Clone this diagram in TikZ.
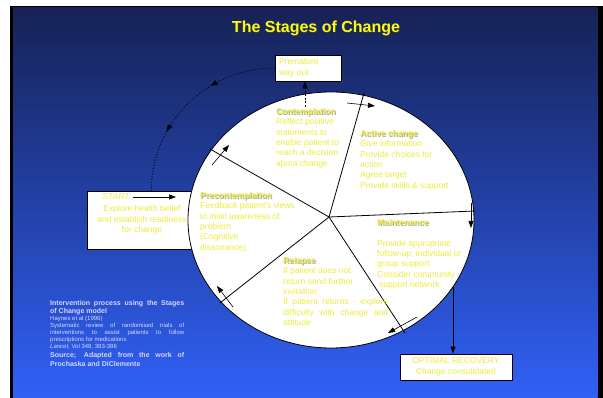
\documentclass[tikz,border=0pt]{standalone}
\usepackage{fontspec}
\setmainfont{Liberation Sans}
\usetikzlibrary{arrows.meta,calc,decorations.markings}

\definecolor{slidetop}{RGB}{22,34,86}
\definecolor{slidemid}{RGB}{34,70,186}
\definecolor{slidebottom}{RGB}{48,96,246}
\definecolor{stageyellow}{RGB}{236,236,62}
\definecolor{titleyellow}{RGB}{250,250,20}
\definecolor{notecolor}{RGB}{214,214,255}

% text with a soft offset shadow behind it
\newcommand{\glow}[2]{\makebox[0pt][l]{\hspace{0.9pt}\raisebox{-0.9pt}{\color{#1}#2}}#2}

\begin{document}
\begin{tikzpicture}[
  x=1pt,
  y=1pt,
  >=Latex,
  line/.style={draw=black,line width=0.8pt},
  arrow/.style={line,-{Triangle[length=7pt,width=5pt]}},
  tick/.style={line,line width=0.6pt,-{Triangle[length=7pt,width=5pt]}},
  box/.style={line,fill=white,text=stageyellow,font=\fontsize{8.5}{10.4}\selectfont},
  stagetext/.style={anchor=north west,align=left,inner sep=0pt,text=stageyellow,
    font=\fontsize{8.5}{10.4}\selectfont}
]

\useasboundingbox (0,0) rectangle (603,398);
\fill[white] (0,0) rectangle (603,398);

% Slide background
\fill[black] (10,0) rectangle (603,392);
\shade[top color=slidetop,middle color=slidemid,bottom color=slidebottom]
  (13,0) rectangle (597.5,390);

% Title
\node[font=\fontsize{16}{18}\selectfont\bfseries,text=titleyellow] (title) at (316,369)
  {\glow{black!80}{The Stages of Change}};

% Premature way out
\node[box,minimum width=65,minimum height=26,text width=59,align=left] (prem) at (308.5,330)
  {Premature\\way out};

% Start box (partly behind the wheel)
\node[box,minimum width=110,minimum height=58,align=center] (startbox) at (142,178)
  {Explore health belief\\and establish readiness\\for change};
\node[font=\fontsize{8.5}{10.4}\selectfont\itshape,text=stageyellow] (startlabel) at (116,201) {START};
\coordinate (startarrow) at (176,201);
\draw[arrow,line width=0.6pt] (startlabel.east) -- (startarrow);

\draw[line,dotted,line width=1pt,decoration={markings,
    mark=at position 0.35 with {\arrow{Triangle[length=7pt,width=5pt]}},
    mark=at position 0.68 with {\arrow{Triangle[length=7pt,width=5pt]}}},postaction=decorate]
  (prem.west) arc[start angle=90,end angle=180,x radius=124,y radius=123];

% Wheel
\draw[line,fill=white] (331,178) ellipse [x radius=143,y radius=128];
\coordinate (hub) at (329,181);
\coordinate (spoke1) at (364,305);
\coordinate (spoke2) at (475,187);
\coordinate (spoke3) at (405,65);
\coordinate (spoke4) at (220,95);
\coordinate (spoke5) at (210,249);
\foreach \n in {1,...,5}
  \draw[line] (hub) -- (spoke\n);

% Direction ticks across the spokes
\coordinate (tick1a) at (347,295); \coordinate (tick1b) at (375,292);
\coordinate (tick2a) at (471,195); \coordinate (tick2b) at (471,170);
\coordinate (tick3a) at (417,81);  \coordinate (tick3b) at (388,65);
\coordinate (tick4a) at (233,91);  \coordinate (tick4b) at (217,112);
\coordinate (tick5a) at (212,233); \coordinate (tick5b) at (229,253);
\foreach \n in {1,...,5}
  \draw[tick] (tick\n a) -- (tick\n b);

% Stage texts
\node[stagetext] (contemplation) at (276,290)
  {\textbf{\glow{black!35}{Contemplation}}\\Reflect positive\\statements to\\enable patient to\\reach a decision\\about change};
\node[stagetext] (precontemplation) at (200,206)
  {\textbf{\glow{black!35}{Precontemplation}}\\Feedback patient's views\\to instil awareness of\\problem.\\(Cognitive\\dissonance)};
\node[stagetext] (active) at (360,268)
  {\textbf{\glow{black!35}{Active change}}\\Give information\\Provide choices for\\action\\Agree target\\Provide skills \& support};
\node[stagetext] (maintenance) at (377,179)
  {\textbf{\glow{black!35}{Maintenance}}\\[10.4pt]Provide appropriate\\follow-up, individual or\\group support\\Consider community\\\hspace{2pt}support network};
\node[stagetext,text width=105,align=justify] (relapse) at (283,141)
  {\textbf{\glow{black!35}{Relapse}}\\If patient does not\\return send further\\invitation\\If patient returns - explore\linebreak difficulty with change and\linebreak attitude};

% Dashed exit from contemplation
\coordinate (contdash) at (305,291);
\draw[line,line width=0.6pt,dash pattern=on 2pt off 1.5pt,-{Triangle[length=7pt,width=5pt]}]
  (contdash) -- (contdash |- prem.south);

% Optimal recovery
\node[box,minimum width=112,minimum height=26,align=center] (optimal) at (456,31)
  {OPTIMAL RECOVERY\\Change consolidated};
\coordinate (maintout) at (453,112);
\draw[arrow] (maintout) -- (maintout |- optimal.north);

% Notes
\node[anchor=north west,inner sep=0pt,text width=134,align=justify,text=notecolor] (notes) at (50,98)
  {{\fontsize{7}{8.3}\selectfont\bfseries Intervention process using the Stages\linebreak of Change model\par}
   {\fontsize{6}{7}\selectfont Haynes et al (1996)\\Systematic review of randomised trials of\linebreak
    interventions to assist patients to follow\linebreak prescriptions for medications\\
    \textit{Lancet}, Vol 348, 383-386\par}
   {\fontsize{7}{8.8}\selectfont\bfseries Source; Adapted from the work of\linebreak Prochaska and DiClemente\par}};

\end{tikzpicture}
\end{document}
